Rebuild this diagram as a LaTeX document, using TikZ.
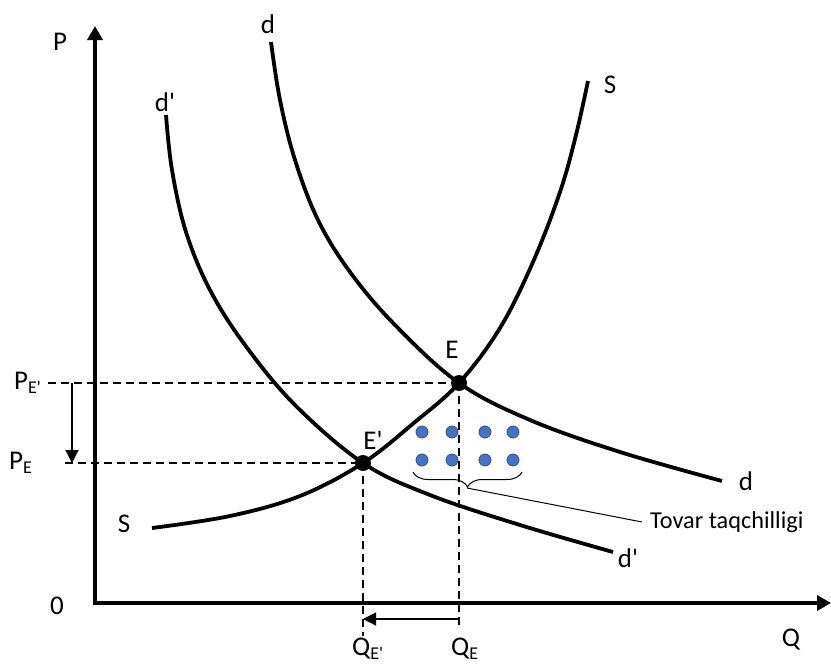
\documentclass[tikz,border=0pt]{standalone}
\usepackage{fontspec}
\setmainfont{Carlito}
\usetikzlibrary{arrows.meta,decorations.pathreplacing}
\definecolor{dotblue}{HTML}{4472C4}
\definecolor{dotedge}{HTML}{2F528F}
\tikzset{
  axisline/.style={line width=3.8pt,-{Triangle[width=15pt,length=14pt]}},
  curve/.style={line width=3.8pt,smooth,tension=0.6},
  guide/.style={line width=1.8pt,dash pattern=on 8pt off 5pt},
  movearrow/.style={line width=1.2pt,-{Triangle[width=13pt,length=13pt]}},
  eqpt/.style={circle,fill=black,inner sep=0pt,minimum size=16pt},
  lbl/.style={inner sep=0pt,font=\fontsize{27}{29}\selectfont},
  sublbl/.style={inner sep=0pt,anchor=base west,font=\fontsize{27}{29}\selectfont},
  dot/.style={circle,fill=dotblue,draw=dotedge,line width=0.8pt,inner sep=0pt,minimum size=12pt},
}
\newcommand{\subE}[1]{{\fontsize{18}{18}\selectfont\raisebox{-4pt}{#1}}}
\begin{document}
\begin{tikzpicture}[x=1pt,y=-1pt]
\path[use as bounding box] (0,0) rectangle (831,664);
% axes
\coordinate (O) at (95,603);
\coordinate (ytop) at (95,26);
\coordinate (xend) at (831,603);
\draw[axisline] (O) -- (ytop);
\draw[axisline] ([xshift=-1.9pt]O) -- (xend);
% equilibrium points
\coordinate (E) at (459,383);
\coordinate (Ep) at (363,463);
% guides
\coordinate (pe1) at (48,383);
\coordinate (pe2) at (65,463);
\coordinate (qe1) at (459,628);
\coordinate (qe2) at (363,636);
\draw[guide] (pe1) -- (E);
\draw[guide] (pe2) -- (Ep);
\draw[guide] (E) -- (qe1);
\draw[guide] (Ep) -- (qe2);
% shift arrows
\coordinate (pa1) at (72,383);
\coordinate (pa2) at (72,463);
\draw[movearrow] (pa1) -- (pa2);
\coordinate (qa1) at (459,619);
\coordinate (qa2) at (363,619);
\draw[movearrow] (qa1) -- (qa2);
% supply
\draw[curve] plot coordinates {(152,528) (230,516) (300,496) (363,463) (415,422) (459,383) (500,328) (533,262) (560,192) (576,135) (588,81)};
% demand d
\draw[curve] plot coordinates {(271,42) (280,100) (295,160) (318,220) (350,272) (395,325) (459,383) (530,420) (620,452) (722,481)};
% demand d'
\draw[curve] plot coordinates {(166,115) (172,170) (186,232) (210,290) (245,345) (295,405) (363,463) (430,495) (520,525) (613,552)};
\node[eqpt] (nE) at (E) {};
\node[eqpt] (nEp) at (Ep) {};
% shortage dots
\foreach \x in {422,452,485,513}{
  \foreach \y in {432,460}{
    \node[dot] at (\x,\y) {};
  }
}
% brace
\coordinate (b1) at (413,472);
\coordinate (b2) at (522,472);
\draw[line width=1pt,decorate,decoration={brace,mirror,amplitude=15pt}] (b1) -- (b2);
\coordinate (btip) at (467,488);
\node[inner sep=0pt,anchor=west,font=\fontsize{24.3}{26}\selectfont] (tov) at (650,522) {Tovar taqchilligi};
\draw[line width=1pt] (btip) -- ([xshift=-8pt]tov.west);
% labels
\node[lbl] (lP) at (60,42) {P};
\node[lbl] (l0) at (57,606) {0};
\node[lbl] (lQ) at (791,640) {Q};
\node[lbl] (ld1) at (268,24) {d};
\node[lbl] (ld2) at (746,481) {d};
\node[lbl] (ldp1) at (165,102) {d\textquotesingle};
\node[lbl] (ldp2) at (628,558) {d\textquotesingle};
\node[lbl] (lS1) at (610,85) {S};
\node[lbl] (lS2) at (124,524) {S};
\node[lbl] (lE) at (452,350) {E};
\node[lbl] (lEp) at (373,440) {E\textquotesingle};
\node[sublbl] (lPEp) at (14,389) {P\subE{E\textquotesingle}};
\node[sublbl] (lPE) at (9,469) {P\subE{E}};
\node[sublbl] (lQEp) at (352,655) {Q\subE{E\textquotesingle}};
\node[sublbl] (lQE) at (451,655) {Q\subE{E}};
\end{tikzpicture}
\end{document}
